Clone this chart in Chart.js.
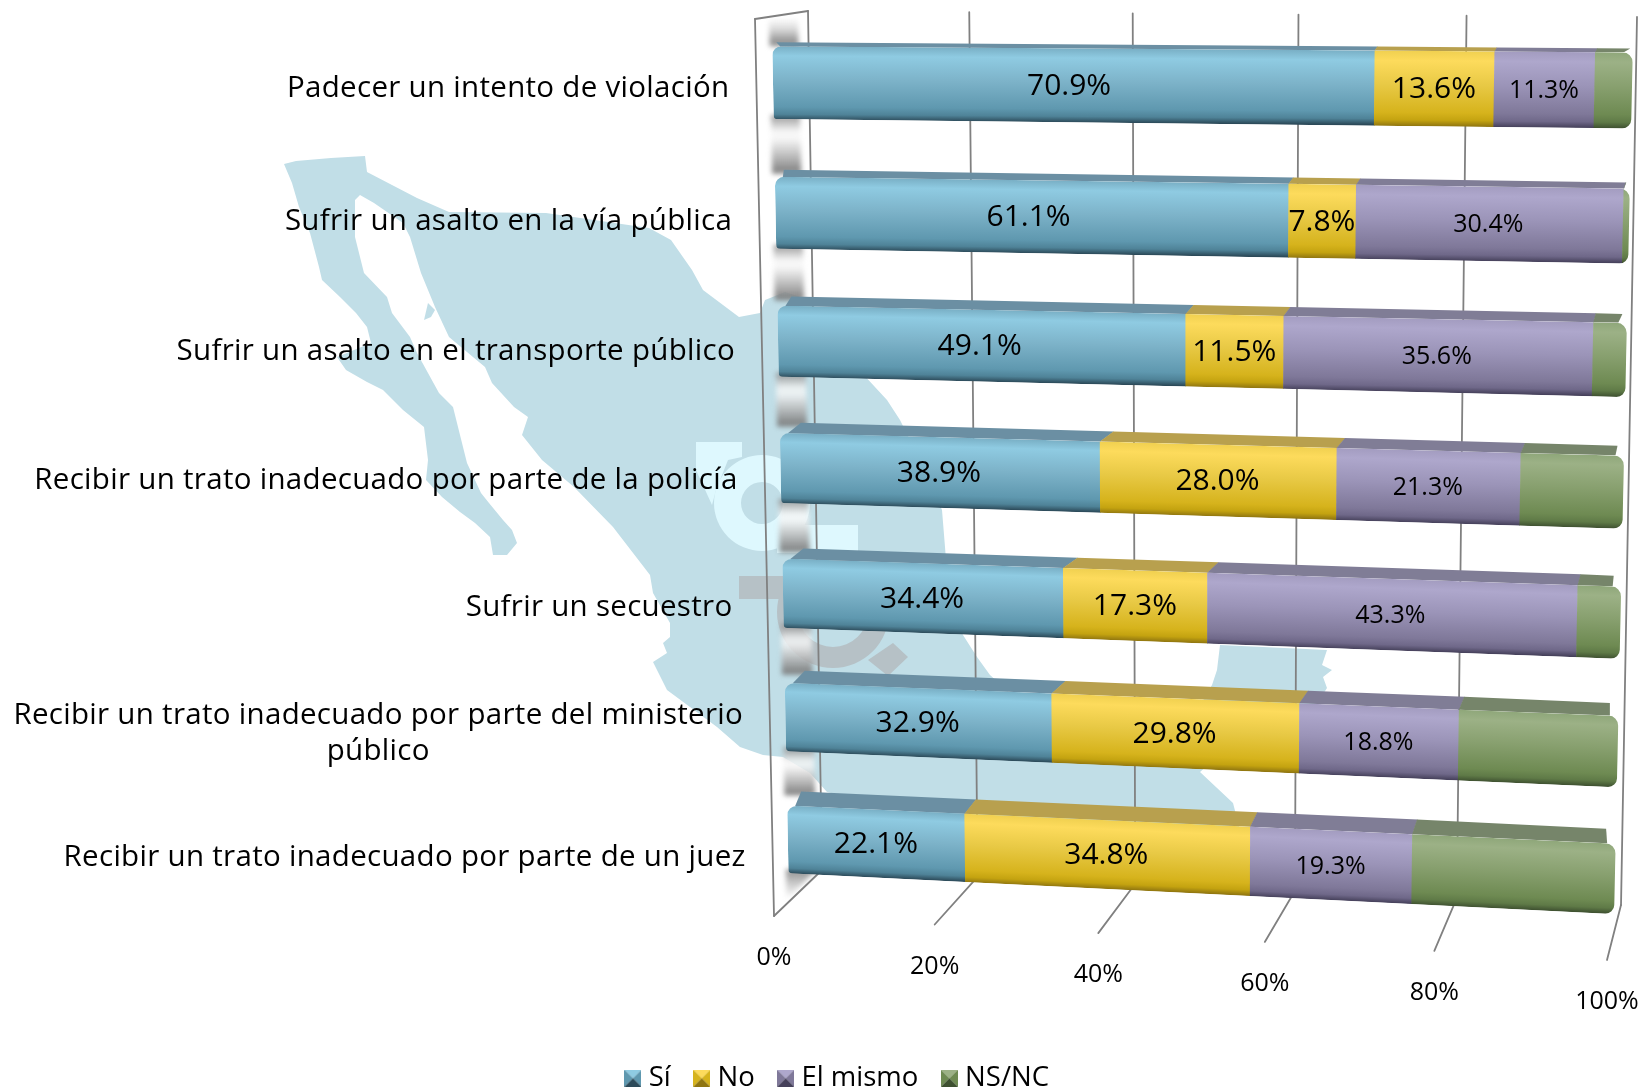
<!DOCTYPE html>
<html lang="es">
<head>
<meta charset="utf-8">
<title>Gráfica</title>
<script src="https://cdn.jsdelivr.net/npm/chart.js@4/dist/chart.umd.min.js"></script>
<style>
html,body{margin:0;padding:0;background:#fff;}
#wrap{width:1644px;height:1092px;position:relative;}
canvas{display:block;}
</style>
</head>
<body>
<div id="wrap"><canvas id="c" width="1644" height="1092"></canvas></div>
<script>
const categories = [
  'Padecer un intento de violación',
  'Sufrir un asalto en la vía pública',
  'Sufrir un asalto en el transporte público',
  'Recibir un trato inadecuado por parte de la policía',
  'Sufrir un secuestro ',
  ['Recibir un trato inadecuado por parte del ministerio', 'público'],
  'Recibir un trato inadecuado por parte de un juez'
];
const seriesNames = ['Sí', 'No', 'El mismo', 'NS/NC'];
const siValues    = [70.9, 61.1, 49.1, 38.9, 34.4, 32.9, 22.1];
const noValues    = [13.6,  7.8, 11.5, 28.0, 17.3, 29.8, 34.8];
const mismoValues = [11.3, 30.4, 35.6, 21.3, 43.3, 18.8, 19.3];
const nsncValues  = [ 4.2,  0.7,  3.8, 11.8,  5.0, 18.5, 23.8];
const labelledSeries = [true, true, true, false];

/* ---- look ---- */
const FONT = '"Open Sans", Lato, sans-serif';
const PALETTE = [
  {base:'#6fa3b9', top:'#6b8fa3', stops:['#79afc5','#8fcbe2','#7db3c9','#5f98af','#4f8398','#2c4a59']},
  {base:'#e0be35', top:'#b8a04e', stops:['#f0d050','#fddb5c','#e8c945','#d6b31c','#c4a310','#8f7510']},
  {base:'#958eb2', top:'#807d96', stops:['#a39cc0','#aea7cc','#9b94b8','#7f7899','#6f6889','#45405a']},
  {base:'#85a06c', top:'#76856a', stops:['#8fa77a','#9cb186','#88a06f','#6e8a52','#5f7a47','#3e5030']}
];
const GRAD_POS = [0, 0.13, 0.45, 0.82, 0.92, 1];
const LABEL_SIZE = [30, 30, 25];

/* ---- projection of the flat chart area on to the planes of the 3-D box ---- */
const QUAD_BAR_FRONT = [[771.7,17],[1633.4,22],[1613.5,942],[789,900]];
const QUAD_WALL      = [[808,11],[1637,17],[1621,905],[822,870]];
const QUAD_FRONT     = [[755,19],[1628,22],[1607,960],[774,916]];
/* how far each row's top face recedes, left end / right end */
const DEPTH_LEFT_X  = [4, 9, 14, 21, 21, 20, 14];
const DEPTH_RIGHT_X = [-3, -4, -5, -7, -8, -9, -10];
const DEPTH_LEFT_Y  = [-4, -7, -9, -10, -10, -12, -14];
const DEPTH_RIGHT_Y = [-4, -6, -9, -10, -11, -13, -15];

function homography(q){
  const [[x0,y0],[x1,y1],[x2,y2],[x3,y3]] = q;
  const sx=x0-x1+x2-x3, sy=y0-y1+y2-y3;
  const dx1=x1-x2, dx2=x3-x2, dy1=y1-y2, dy2=y3-y2, det=dx1*dy2-dx2*dy1;
  const g=(sx*dy2-dx2*sy)/det, h=(dx1*sy-sx*dy1)/det;
  const a=x1-x0+g*x1, b=x3-x0+h*x3, d=y1-y0+g*y1, e=y3-y0+h*y3;
  return (u,v)=>{const w=g*u+h*v+1; return [(a*u+b*v+x0)/w,(d*u+e*v+y0)/w];};
}
const hBar=homography(QUAD_BAR_FRONT), hWall=homography(QUAD_WALL), hFront=homography(QUAD_FRONT);

/* ---- decorative watermark behind the chart ---- */
const MAP_OUTLINE = [[284,164],[296,161],[331,158],[365,156],[367,172],[392,185],[417,198],[449,212],[546,213],[649,228],[671,240],[692,270],[703,290],[739,317],[760,313],[765,300],[785,292],[810,300],[850,360],[887,400],[900,420],[925,470],[942,510],[945,547],[950,610],[963,635],[977,657],[990,675],[1040,720],[1110,745],[1180,740],[1212,685],[1217,670],[1220,645],[1327,650],[1322,665],[1332,670],[1323,677],[1327,688],[1300,730],[1230,745],[1200,772],[1233,803],[1240,830],[1100,825],[1000,820],[900,810],[827,792],[810,773],[783,757],[763,755],[740,747],[717,727],[667,690],[653,662],[667,653],[663,643],[670,637],[670,623],[653,593],[650,575],[613,527],[574,487],[542,460],[522,435],[528,417],[514,407],[492,383],[485,367],[449,337],[435,307],[421,273],[410,237],[403,223],[374,203],[360,195],[355,200],[355,237],[364,273],[387,297],[392,313],[410,337],[417,353],[428,373],[439,393],[453,407],[467,463],[481,493],[489,503],[503,520],[512,530],[517,543],[507,555],[493,555],[490,537],[475,523],[460,512],[442,497],[426,480],[428,460],[424,427],[403,410],[383,390],[367,382],[346,370],[337,357],[371,343],[367,327],[356,313],[340,297],[322,280],[319,267],[310,233],[299,207],[292,183]];
const MAP_ISLAND = [[424,320],[428,303],[435,310],[431,317]];

function poly(ctx,pts){ctx.beginPath();pts.forEach((p,i)=>i?ctx.lineTo(p[0],p[1]):ctx.moveTo(p[0],p[1]));ctx.closePath();}

function drawWatermark(ctx){
  ctx.save();
  ctx.fillStyle='#c1dee7';
  poly(ctx,MAP_OUTLINE);ctx.fill();
  poly(ctx,MAP_ISLAND);ctx.fill();
  // light logo part
  ctx.fillStyle='#def8fe';
  poly(ctx,[[696,442],[742,442],[742,457],[728,460],[716,490],[712,505],[696,470]]);ctx.fill();
  ctx.beginPath();ctx.arc(762,503,48,0,Math.PI*2);ctx.arc(762,503,21,0,Math.PI*2,true);ctx.fill('evenodd');
  ctx.fillRect(777,525,81,28);
  // grey logo part
  ctx.fillStyle='#b6c1c6';
  ctx.fillRect(739,576,60,23);
  ctx.beginPath();ctx.arc(833,612,56,0,Math.PI*2);ctx.arc(833,612,35,0,Math.PI*2,true);ctx.fill('evenodd');
  poly(ctx,[[893,643],[908,657],[888,676],[868,660]]);ctx.fill();
  ctx.restore();
}

function rowPath(ctx,tl,tr,br,bl){
  ctx.beginPath();
  ctx.moveTo(tl[0]+8,tl[1]+0.1);
  ctx.arcTo(tr[0],tr[1],br[0],br[1],10);
  ctx.arcTo(br[0],br[1],bl[0],bl[1],9);
  ctx.arcTo(bl[0],bl[1],tl[0],tl[1],4);
  ctx.arcTo(tl[0],tl[1],tr[0],tr[1],9);
  ctx.closePath();
}

function faceGradient(ctx,tl,tr,br,bl,stops){
  const tx=(tl[0]+tr[0])/2, ty=(tl[1]+tr[1])/2, bx=(bl[0]+br[0])/2, by=(bl[1]+br[1])/2;
  let ex=tr[0]-tl[0], ey=tr[1]-tl[1]; const len=Math.hypot(ex,ey)||1; ex/=len; ey/=len;
  const nx=-ey, ny=ex, L=(bx-tx)*nx+(by-ty)*ny;
  const g=ctx.createLinearGradient(tx,ty,tx+nx*L,ty+ny*L);
  stops.forEach((c,i)=>g.addColorStop(GRAD_POS[i],c));
  return g;
}

const box3d = {
  id:'box3d',
  beforeDatasetsDraw(chart){
    const ctx=chart.ctx, a=chart.chartArea, xs=chart.scales.x, ys=chart.scales.y;
    const U=px=>(px-a.left)/(a.right-a.left), V=py=>(py-a.top)/(a.bottom-a.top);
    const P=(h,px,py)=>h(U(px),V(py));
    /* point on the back edge of a row's top face */
    const backPt=(r,px,py,atEnd)=>{
      const f=P(hBar,px,py), u=U(px);
      const dx=atEnd?DEPTH_RIGHT_X[r]:DEPTH_LEFT_X[r]*(1-u)+2*u;
      const dy=DEPTH_LEFT_Y[r]*(1-u)+DEPTH_RIGHT_Y[r]*u;
      return [f[0]+dx,f[1]+dy];
    };
    drawWatermark(ctx);

    /* wall shadow strips, one per gap between bars */
    const metas=chart.data.datasets.map((d,i)=>chart.getDatasetMeta(i));
    const nRows=categories.length;
    const stripL=y=>769+(y-20)*0.0198, stripR=y=>798+(y-20)*0.0221;
    ctx.save();
    ctx.filter='blur(2.5px)';
    let prevY=19;
    for(let r=0;r<=nRows;r++){
      let nextY;
      if(r<nRows){const b=metas[0].data[r]; nextY=backPt(r,b.base,b.y-b.height/2)[1]+4;}
      else nextY=900;
      const g=ctx.createLinearGradient(0,prevY,0,nextY);
      if(r===0){g.addColorStop(0,'rgba(235,235,235,.3)');g.addColorStop(.75,'rgba(140,140,140,.85)');g.addColorStop(1,'rgba(130,130,130,.9)');}
      else if(r===nRows){g.addColorStop(0,'rgba(120,120,120,.85)');g.addColorStop(1,'rgba(255,255,255,.6)');}
      else{g.addColorStop(0,'rgba(125,125,125,.8)');g.addColorStop(.28,'rgba(245,245,245,.8)');g.addColorStop(.4,'rgba(245,245,245,.8)');g.addColorStop(.92,'rgba(125,125,125,.88)');g.addColorStop(1,'rgba(120,120,120,.9)');}
      ctx.fillStyle=g;
      if(r===nRows) poly(ctx,[[stripL(prevY),prevY],[stripR(prevY),prevY],[stripL(nextY),nextY]]);
      else poly(ctx,[[stripL(prevY),prevY],[stripR(prevY),prevY],[stripR(nextY),nextY],[stripL(nextY),nextY]]);
      ctx.fill();
      if(r<nRows){const b=metas[0].data[r]; prevY=P(hBar,b.base,b.y+b.height/2)[1]-4;}
    }
    ctx.restore();

    /* walls, grid and floor lines from the value scale */
    ctx.save();
    ctx.strokeStyle='#808080'; ctx.lineWidth=1.8; ctx.lineCap='round';
    const line=(p,q)=>{ctx.beginPath();ctx.moveTo(p[0],p[1]);ctx.lineTo(q[0],q[1]);ctx.stroke();};
    xs.ticks.forEach(t=>{
      const px=xs.getPixelForValue(t.value);
      const wt=P(hWall,px,a.top), wb=P(hWall,px,a.bottom), fb=P(hFront,px,a.bottom);
      line(wt,wb); line(wb,fb);
      if(t.value===xs.min){
        const ft=P(hFront,px,a.top);
        line(ft,fb); line(ft,wt);
      }
    });
    ctx.restore();

    /* bars: each element's scale-derived rectangle mapped on the 3-D planes */
    for(let r=0;r<nRows;r++){
      const bars=metas.map(m=>m.data[r]);
      const y0=bars[0].y-bars[0].height/2, y1=bars[0].y+bars[0].height/2;
      const xa=bars[0].base, xb=bars[bars.length-1].x;
      const last=bars.length-1;
      // top faces, with the outer front corners cut back where the row rounds off
      bars.forEach((b,i)=>{
        const f0=P(hBar,b.base,y0), f1=P(hBar,b.x,y0);
        const b1=backPt(r,b.x,y0,i===last), b0=backPt(r,b.base,y0);
        if(i===0){f0[0]+=8;f0[1]+=0.4;}
        if(i===last){const cut=Math.min(9,f1[0]-f0[0]);f1[0]-=cut;f1[1]-=cut*0.05;}
        ctx.fillStyle=PALETTE[i].top;
        poly(ctx,[f0,[f1[0]+.5,f1[1]],[b1[0]+.5,b1[1]],b0]); ctx.fill();
      });
      // front faces clipped by the rounded row outline
      ctx.save();
      rowPath(ctx,P(hBar,xa,y0),P(hBar,xb,y0),P(hBar,xb,y1),P(hBar,xa,y1));
      ctx.clip();
      bars.forEach((b,i)=>{
        const tl=P(hBar,b.base,y0), tr=P(hBar,b.x,y0), br=P(hBar,b.x,y1), bl=P(hBar,b.base,y1);
        ctx.fillStyle=faceGradient(ctx,tl,tr,br,bl,PALETTE[i].stops);
        poly(ctx,[tl,[tr[0]+.6,tr[1]],[br[0]+.6,br[1]],bl]); ctx.fill();
      });
      ctx.restore();
    }

    /* value labels */
    ctx.save();
    ctx.fillStyle='#000'; ctx.textAlign='center'; ctx.textBaseline='middle';
    chart.data.datasets.forEach((ds,i)=>{
      if(!labelledSeries[i]) return;
      ctx.font='400 '+LABEL_SIZE[i]+'px '+FONT;
      metas[i].data.forEach((b,r)=>{
        const p=P(hBar,(b.base+b.x)/2,b.y);
        ctx.fillText(ds.data[r].toFixed(1)+'%',p[0],p[1]+1);
      });
    });
    /* category labels */
    ctx.font='400 29.5px '+FONT;
    ctx.letterSpacing='0.3px';
    ys.ticks.forEach((t,r)=>{
      const py=ys.getPixelForValue(t.value);
      const p=P(hFront,xs.getPixelForValue(xs.min),py);
      const lines=[].concat(t.label);
      const right=p[0]-27;
      if(lines.length===1){
        ctx.textAlign='right'; ctx.fillText(lines[0],right,p[1]+3);
      }else{
        const w=Math.max(...lines.map(s=>ctx.measureText(s).width));
        ctx.textAlign='center';
        lines.forEach((s,k)=>ctx.fillText(s,right-w/2,p[1]+3+(k-(lines.length-1)/2)*36));
      }
    });
    ctx.letterSpacing='0px';
    /* value-axis tick labels */
    ctx.font='400 25px '+FONT; ctx.fillStyle='#000'; ctx.textAlign='center';
    xs.ticks.forEach(t=>{
      const p=P(hFront,xs.getPixelForValue(t.value),a.bottom);
      ctx.fillText(t.label,p[0],p[1]+42);
    });
    ctx.restore();
    return false; // the element rectangles are replaced by the projected drawing above
  }
};

function bevelSwatch(pal){
  const c=document.createElement('canvas'); c.width=17; c.height=17;
  const x=c.getContext('2d'), s=17, m=8.5;
  const tri=(col,a,b,d)=>{x.fillStyle=col;x.beginPath();x.moveTo(...a);x.lineTo(...b);x.lineTo(...d);x.closePath();x.fill();};
  tri(pal.stops[1],[0,0],[s,0],[m,m]);
  tri(pal.stops[3],[0,0],[0,s],[m,m]);
  tri(pal.stops[3],[s,0],[s,s],[m,m]);
  tri(pal.stops[5],[0,s],[s,s],[m,m]);
  return c;
}

const swatches = PALETTE.map(bevelSwatch);
const seriesValues = [siValues, noValues, mismoValues, nsncValues];

new Chart(document.getElementById('c'),{
  type:'bar',
  plugins:[box3d],
  data:{
    labels:categories,
    datasets:seriesNames.map((name,i)=>({
      label:name,
      data:seriesValues[i],
      backgroundColor:PALETTE[i].base,
      stack:'s'
    }))
  },
  options:{
    indexAxis:'y',
    responsive:false,
    animation:false,
    layout:{padding:{left:36,right:0,top:20,bottom:-10}},
    barPercentage:0.557,
    categoryPercentage:1,
    scales:{
      x:{stacked:true,min:0,max:100,
         grid:{display:false},border:{display:false},
         ticks:{display:false,stepSize:20,callback:v=>v+'%'}},
      y:{stacked:true,
         grid:{display:false},border:{display:false},
         ticks:{display:false}}
    },
    plugins:{
      tooltip:{enabled:false},
      legend:{
        position:'bottom',
        labels:{
          usePointStyle:true,boxWidth:4,padding:29,color:'#000',
          font:{family:FONT,size:27.5,weight:'400'},
          generateLabels(chart){
            return Chart.defaults.plugins.legend.labels.generateLabels(chart)
              .map((l,i)=>Object.assign(l,{pointStyle:swatches[i]}));
          }
        }
      }
    }
  }
});
</script>
</body>
</html>
